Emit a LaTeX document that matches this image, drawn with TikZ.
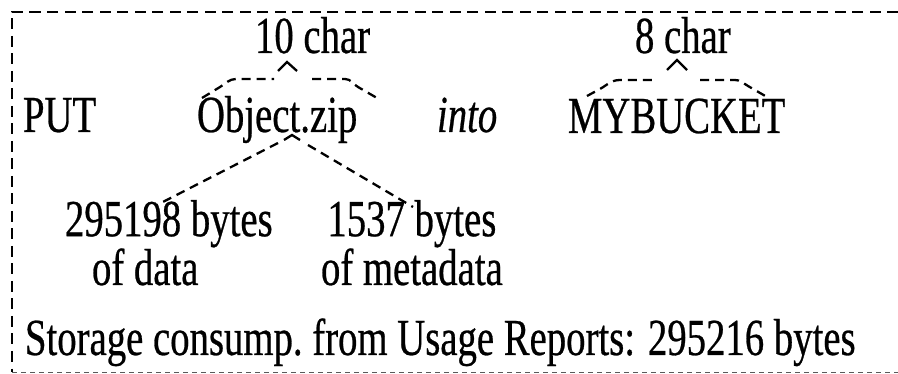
\documentclass[tikz,border=0pt]{standalone}
\usepackage{fontspec}
\setmainfont{Liberation Serif}[FakeStretch=0.745,FakeBold=0.5]
\begin{document}
\begin{tikzpicture}[x=1pt,y=-1pt,
  txt/.style={anchor=base west,inner sep=0pt,outer sep=0pt,font=\fontsize{52}{45}\selectfont},
  frame/.style={line width=2.4pt,dash pattern=on 11pt off 6.5pt},
  framebot/.style={line width=1.7pt,black!65,dash pattern=on 5pt off 4pt},
  bracepath/.style={line width=2.3pt,dash pattern=on 9pt off 6pt,line join=round},
  caret/.style={line width=2.3pt,line join=miter}]
\useasboundingbox (0,0) rectangle (898,374);
% frame
\coordinate (ftl) at (12,12);
\coordinate (ftr) at (898,12);
\coordinate (fbl) at (12,372.5);
\coordinate (fbr) at (898,372.5);
\draw[frame] (ftr) -- (ftl) -- (fbl);
\draw[framebot] (fbl) -- (fbr);
% texts
\node[txt] (put) at (23,132) {PUT};
\node[txt] (obj) at (197,132) {Object.zip};
\node[txt] (into) at (437,132) {\itshape into};
\node[txt] (bucket) at (568,133) {MYBUCKET};
\node[txt] (c10) at (255,53) {10 char};
\node[txt] (c8) at (635,53) {8 char};
\node[txt,align=left] (data) at (65,285) {295198 bytes\\\hspace*{27pt}of data};
\node[txt,align=center] (meta) at (321,285) {1537 bytes\\of metadata};
\node[txt] (storage) at (25,355) {Storage consump.\ from Usage Reports: 295216 bytes};
% brace over Object.zip
\coordinate (b1l) at (202,98);
\coordinate (b1r) at (377,98);
\coordinate (b1t) at (287,62);
\draw[bracepath] (b1l) -- (220,87) to[out=30,in=180] (236,79) -- (274,79);
\draw[caret] (278,71) -- (b1t) -- (297,71);
\draw[bracepath] (312,79) -- (345,79) to[out=0,in=150] (358,87) -- (b1r);
% brace over MYBUCKET
\coordinate (b2l) at (587,96);
\coordinate (b2r) at (767,97);
\coordinate (b2t) at (677,60);
\draw[bracepath] (b2l) -- (600,89) to[out=30,in=180] (620,80) -- (656,80);
\draw[caret] (667,70) -- (b2t) -- (687,70);
\draw[bracepath] (700,80) -- (735,80) to[out=0,in=150] (748,86) -- (b2r);
% lower brace from Object.zip to the byte counts
\coordinate (b3t) at (292,135);
\coordinate (b3l) at (157,205);
\coordinate (b3r) at (413,207);
\draw[caret] (284,140) -- (b3t) -- (300,140);
\draw[bracepath] (278,143) -- (b3l);
\draw[bracepath] (308,145) -- (b3r);
\end{tikzpicture}
\end{document}
